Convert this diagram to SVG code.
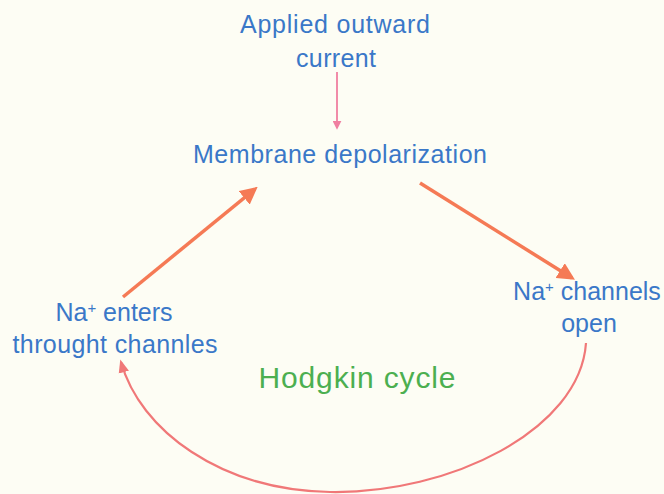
<svg xmlns="http://www.w3.org/2000/svg" width="664" height="494" viewBox="0 0 664 494">
<style>
.t{font-family:"Liberation Sans",Arial,sans-serif;font-size:25px;fill:#3a78c8;text-anchor:middle}
.g{font-family:"Liberation Sans",Arial,sans-serif;font-size:30px;fill:#4caf50;text-anchor:middle}
.o{stroke:#f57a55;stroke-width:3.5;fill:none}
</style>
<defs>
<marker id="ah" viewBox="0 0 10 10" refX="8" refY="5" markerWidth="5" markerHeight="5" orient="auto"><path d="M0,0 L10,5 L0,10 Z" fill="#f57a55"/></marker>
<marker id="pk" viewBox="0 0 10 10" refX="8" refY="5" markerWidth="5" markerHeight="5" orient="auto"><path d="M0,0 L10,5 L0,10 Z" fill="#f07fa0"/></marker>
<marker id="rd" viewBox="0 0 10 10" refX="8" refY="5" markerWidth="6" markerHeight="6" orient="auto"><path d="M0,1 L10,5 L0,9 Z" fill="#f07878"/></marker>
</defs>
<rect width="664" height="494" fill="#fdfdf4"/>
<g id="connectors">
<line x1="337" y1="72" x2="337" y2="128" stroke="#f07fa0" stroke-width="1.8" marker-end="url(#pk)"/>
<line class="o" x1="420" y1="183" x2="572" y2="278" marker-end="url(#ah)"/>
<line class="o" x1="123" y1="297" x2="255" y2="189" marker-end="url(#ah)"/>
<path d="M586 343 C580 430 450 494 330 492 C220 490 140 430 121 362" stroke="#f07878" stroke-width="2.2" fill="none" marker-end="url(#rd)"/>
</g>
<g id="applied"><text class="t" x="335" y="33" textLength="190">Applied outward</text><text class="t" x="336" y="67" textLength="80">current</text></g>
<g id="membrane"><text class="t" x="340" y="163" textLength="294">Membrane depolarization</text></g>
<g id="na-open"><text class="t" x="587" y="300">Na<tspan font-size="15" dy="-8">+</tspan><tspan dy="8"> channels</tspan></text><text class="t" x="589" y="332">open</text></g>
<g id="na-enters"><text class="t" x="114" y="321">Na<tspan font-size="15" dy="-8">+</tspan><tspan dy="8"> enters</tspan></text><text class="t" x="115" y="353" textLength="205">throught channles</text></g>
<g id="cycle"><text class="g" x="357" y="388" textLength="197">Hodgkin cycle</text></g>
</svg>
